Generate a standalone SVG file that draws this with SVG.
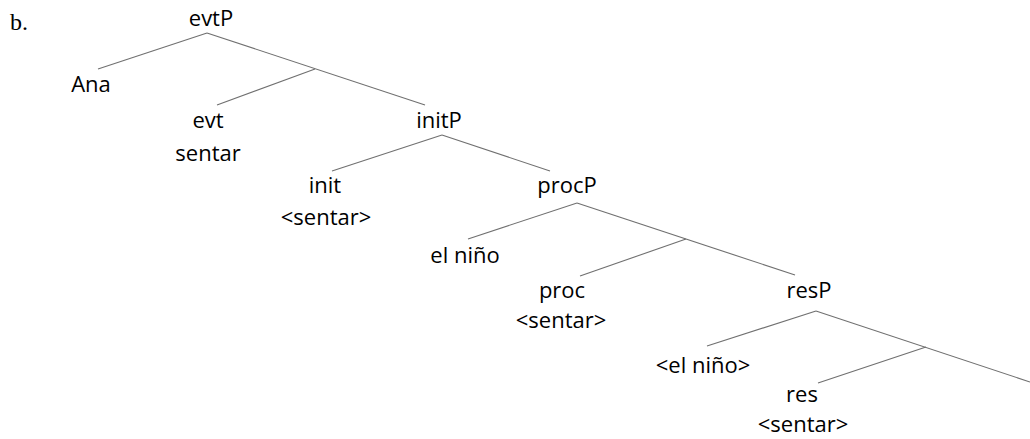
<svg xmlns="http://www.w3.org/2000/svg" width="1030" height="439" viewBox="0 0 1030 439">
  <style>
    .lbl { font-family: "Open Sans", "Noto Sans", sans-serif; font-size: 22px; fill: #000; text-anchor: middle; }
    .ex { font-family: "Liberation Serif", serif; font-size: 24px; fill: #000; }
    .edge { stroke: #707070; stroke-width: 1.1; fill: none; }
  </style>
  <rect width="1030" height="439" fill="#fff"/>

  <text class="ex" x="10" y="30">b.</text>

  <!-- tree branches -->
  <g id="connectors">
    <line class="edge" x1="207" y1="33" x2="98" y2="69"/>
    <line class="edge" x1="207" y1="33" x2="425" y2="105"/>
    <line class="edge" x1="315" y1="69" x2="217" y2="105"/>

    <line class="edge" x1="442" y1="135" x2="332" y2="171"/>
    <line class="edge" x1="442" y1="135" x2="550" y2="171"/>

    <line class="edge" x1="577" y1="203" x2="468" y2="239"/>
    <line class="edge" x1="577" y1="203" x2="795" y2="275"/>
    <line class="edge" x1="686" y1="239" x2="580" y2="276"/>

    <line class="edge" x1="816" y1="311" x2="707" y2="346"/>
    <line class="edge" x1="816" y1="311" x2="1030" y2="382"/>
    <line class="edge" x1="926" y1="347" x2="818" y2="383"/>
  </g>

  <g id="evtP"><text class="lbl" x="211" y="26">evtP</text></g>
  <g id="Ana"><text class="lbl" x="91" y="92">Ana</text></g>
  <g id="evt">
    <text class="lbl" x="208" y="128">evt</text>
    <text class="lbl" x="208" y="161">sentar</text>
  </g>
  <g id="initP"><text class="lbl" x="439" y="128">initP</text></g>
  <g id="init">
    <text class="lbl" x="325" y="193">init</text>
    <text class="lbl" x="326" y="225">&lt;sentar&gt;</text>
  </g>
  <g id="procP"><text class="lbl" x="567" y="193">procP</text></g>
  <g id="el-nino"><text class="lbl" x="465" y="263">el niño</text></g>
  <g id="proc">
    <text class="lbl" x="562" y="298">proc</text>
    <text class="lbl" x="561" y="328">&lt;sentar&gt;</text>
  </g>
  <g id="resP"><text class="lbl" x="809" y="298">resP</text></g>
  <g id="el-nino-copy"><text class="lbl" x="703" y="373">&lt;el niño&gt;</text></g>
  <g id="res">
    <text class="lbl" x="802" y="402">res</text>
    <text class="lbl" x="803" y="432">&lt;sentar&gt;</text>
  </g>
</svg>
